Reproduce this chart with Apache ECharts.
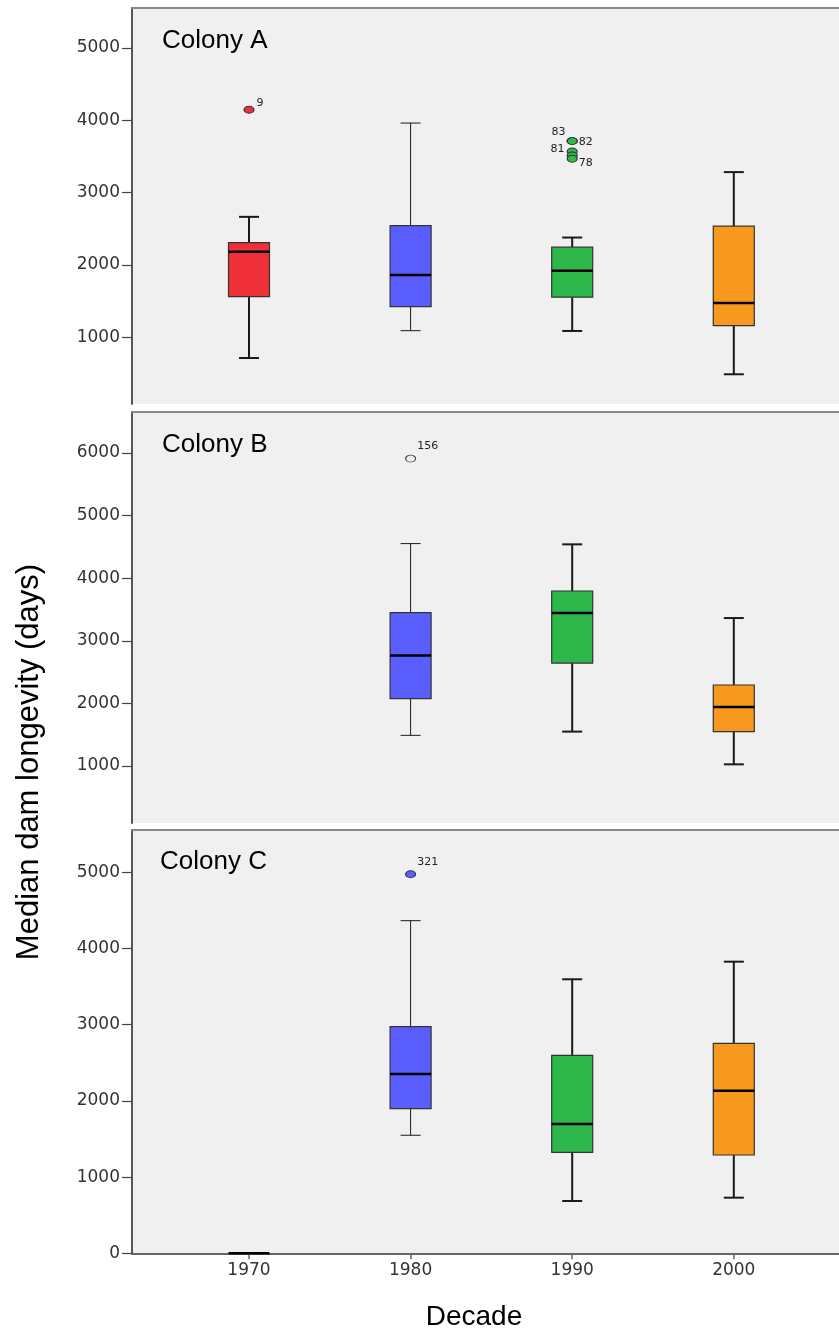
<!DOCTYPE html>
<html>
<head>
<meta charset="utf-8">
<script src="https://cdn.jsdelivr.net/npm/echarts@6/dist/echarts.min.js"></script>
<style>
html,body{margin:0;padding:0;background:#fff;}
#chart{width:839px;height:1333px;}
</style>
</head>
<body>
<div id="chart"></div>
<script>
// ---------- DATA ----------
const decades = [1970, 1980, 1990, 2000];
const yTicksA = [1000, 2000, 3000, 4000, 5000];
const yTicksB = [1000, 2000, 3000, 4000, 5000, 6000];
const yTicksC = [0, 1000, 2000, 3000, 4000, 5000];

const colonyA_min    = [713, 1091, 1087, 488];
const colonyA_q1     = [1562, 1424, 1554, 1161];
const colonyA_median = [2181, 1862, 1918, 1475];
const colonyA_q3     = [2309, 2545, 2246, 2536];
const colonyA_max    = [2665, 3962, 2379, 3284];

const colonyB_min    = [null, 1490, 1550, 1027];
const colonyB_q1     = [null, 2077, 2645, 1550];
const colonyB_median = [null, 2764, 3444, 1942];
const colonyB_q3     = [null, 3450, 3796, 2294];
const colonyB_max    = [null, 4553, 4541, 3364];

const colonyC_min    = [0, 1549, 686, 730];
const colonyC_q1     = [0, 1898, 1325, 1290];
const colonyC_median = [0, 2353, 1697, 2134];
const colonyC_q3     = [0, 2974, 2598, 2756];
const colonyC_max    = [0, 4365, 3596, 3827];

const outlierA_decade = [1970, 1990, 1990, 1990, 1990, 1990];
const outlierA_value  = [4146, 3713, 3713, 3569, 3513, 3468];
const outlierA_id     = ['9', '83', '82', '81', '', '78'];

const outlierB_decade = [1980];
const outlierB_value  = [5911];
const outlierB_id     = ['156'];

const outlierC_decade = [1980];
const outlierC_value  = [4974];
const outlierC_id     = ['321'];

// ---------- STYLES ----------
const decadeColors = ['#ef3038', '#5a5eff', '#2eb84b', '#f8991f'];
const whiskerWidths = [2, 1, 2, 2];
const BOX_W = 41, CAP_W = 20;
const labelPlacement = {
  '9':   {position: 'right', distance: 2, offset: [0, -7]},
  '83':  {position: 'left',  distance: 1, offset: [0, -9]},
  '82':  {position: 'right', distance: 1, offset: [0, 1]},
  '81':  {position: 'left',  distance: 2, offset: [0, -2]},
  '78':  {position: 'right', distance: 1, offset: [0, 4]},
  '156': {position: 'right', distance: 1, offset: [0, -12]},
  '321': {position: 'right', distance: 1, offset: [0, -12]}
};
const hollowIds = ['156'];

function buildBoxData(mins, q1s, meds, q3s, maxs) {
  const out = [];
  decades.forEach((d, i) => {
    if (meds[i] === null) return;
    out.push([d, mins[i], q1s[i], meds[i], q3s[i], maxs[i]]);
  });
  return out;
}
function buildOutliers(ds, vs, ids) {
  return ds.map((d, i) => {
    const ci = decades.indexOf(d);
    const hollow = hollowIds.indexOf(ids[i]) >= 0;
    const lp = labelPlacement[ids[i]];
    const item = {
      value: [d, vs[i]],
      itemStyle: {
        color: hollow ? '#f0f0f0' : decadeColors[ci],
        borderColor: hollow ? '#444' : '#333',
        borderWidth: 1,
        opacity: 1
      }
    };
    if (lp) {
      item.label = {show: true, formatter: ids[i], position: lp.position, distance: lp.distance, offset: lp.offset};
    } else {
      item.label = {show: false};
    }
    return item;
  });
}

function renderBox(params, api) {
  const x = api.value(0);
  const ci = decades.indexOf(x);
  const pMin = api.coord([x, api.value(1)]);
  const pQ1 = api.coord([x, api.value(2)]);
  const pMed = api.coord([x, api.value(3)]);
  const pQ3 = api.coord([x, api.value(4)]);
  const pMax = api.coord([x, api.value(5)]);
  const cx = pMed[0];
  const ww = whiskerWidths[ci];
  const wStyle = {stroke: '#1a1a1a', lineWidth: ww};
  const children = [];
  if (pMax[1] < pQ3[1]) {
    children.push({type: 'line', shape: {x1: cx, y1: pMax[1], x2: cx, y2: pQ3[1]}, style: wStyle});
    children.push({type: 'line', shape: {x1: cx - CAP_W / 2, y1: pMax[1], x2: cx + CAP_W / 2, y2: pMax[1]}, style: wStyle});
  }
  if (pMin[1] > pQ1[1]) {
    children.push({type: 'line', shape: {x1: cx, y1: pQ1[1], x2: cx, y2: pMin[1]}, style: wStyle});
    children.push({type: 'line', shape: {x1: cx - CAP_W / 2, y1: pMin[1], x2: cx + CAP_W / 2, y2: pMin[1]}, style: wStyle});
  }
  if (pQ1[1] > pQ3[1]) {
    children.push({type: 'rect', shape: {x: cx - BOX_W / 2, y: pQ3[1], width: BOX_W, height: pQ1[1] - pQ3[1]},
      style: {fill: decadeColors[ci], stroke: '#333', lineWidth: 1.2}});
  }
  children.push({type: 'line', shape: {x1: cx - BOX_W / 2, y1: pMed[1], x2: cx + BOX_W / 2, y2: pMed[1]},
    style: {stroke: '#000', lineWidth: 2.5}});
  return {type: 'group', children: children};
}

const XMIN = 1962.76, XMAX = 2006.51;
const labelFont = {fontFamily: 'DejaVu Sans', fontSize: 17, color: '#333'};

function yAxisDef(grid, min, max, ticks) {
  return {
    type: 'value', gridIndex: grid, min: min, max: max,
    splitLine: {show: false},
    axisLine: {show: true, lineStyle: {color: '#555', width: 2}},
    axisTick: {show: true, length: 10, lineStyle: {color: '#444', width: 1.2}, customValues: ticks},
    axisLabel: Object.assign({margin: 12, customValues: ticks, formatter: v => String(v)}, labelFont)
  };
}
function topBorderAxis(grid) {
  return {
    type: 'value', gridIndex: grid, position: 'top', min: XMIN, max: XMAX,
    splitLine: {show: false},
    axisLine: {show: true, onZero: false, lineStyle: {color: '#888', width: 2}},
    axisTick: {show: false}, axisLabel: {show: false}
  };
}

const chart = echarts.init(document.getElementById('chart'), null, {renderer: 'canvas'});
const gridCommon = {left: 132, right: 0, show: true, backgroundColor: '#f0f0f0', borderWidth: 0};

const outlierLabelStyle = {fontFamily: 'DejaVu Sans', fontSize: 11, color: '#222'};

chart.setOption({
  animation: false,
  backgroundColor: '#ffffff',
  grid: [
    Object.assign({top: 8, height: 396}, gridCommon),
    Object.assign({top: 412, height: 411}, gridCommon),
    Object.assign({top: 830, height: 423.3}, gridCommon)
  ],
  xAxis: [
    topBorderAxis(0),
    topBorderAxis(1),
    {
      type: 'value', gridIndex: 2, position: 'bottom', min: XMIN, max: XMAX,
      splitLine: {show: false},
      axisLine: {show: true, onZero: false, lineStyle: {color: '#666', width: 2}},
      axisTick: {show: true, length: 6, lineStyle: {color: '#666', width: 1.5}, customValues: decades},
      axisLabel: Object.assign({margin: 9, customValues: decades, formatter: v => String(v)}, labelFont)
    },
    topBorderAxis(2)
  ],
  yAxis: [
    yAxisDef(0, 77, 5553, yTicksA),
    yAxisDef(1, 90, 6655, yTicksB),
    yAxisDef(2, 0, 5555, yTicksC)
  ],
  series: [
    {type: 'custom', xAxisIndex: 0, yAxisIndex: 0, renderItem: renderBox, encode: {x: 0, y: [1, 2, 3, 4, 5]},
     data: buildBoxData(colonyA_min, colonyA_q1, colonyA_median, colonyA_q3, colonyA_max), z: 2},
    {type: 'custom', xAxisIndex: 1, yAxisIndex: 1, renderItem: renderBox, encode: {x: 0, y: [1, 2, 3, 4, 5]},
     data: buildBoxData(colonyB_min, colonyB_q1, colonyB_median, colonyB_q3, colonyB_max), z: 2},
    {type: 'custom', xAxisIndex: 2, yAxisIndex: 2, renderItem: renderBox, encode: {x: 0, y: [1, 2, 3, 4, 5]},
     data: buildBoxData(colonyC_min, colonyC_q1, colonyC_median, colonyC_q3, colonyC_max), z: 2},
    {type: 'scatter', xAxisIndex: 0, yAxisIndex: 0, symbol: 'circle', symbolSize: [10, 7], z: 3,
     itemStyle: {opacity: 1}, label: outlierLabelStyle, data: buildOutliers(outlierA_decade, outlierA_value, outlierA_id)},
    {type: 'scatter', xAxisIndex: 1, yAxisIndex: 1, symbol: 'circle', symbolSize: [10, 7], z: 3,
     itemStyle: {opacity: 1}, label: outlierLabelStyle, data: buildOutliers(outlierB_decade, outlierB_value, outlierB_id)},
    {type: 'scatter', xAxisIndex: 2, yAxisIndex: 2, symbol: 'circle', symbolSize: [10, 7], z: 3,
     itemStyle: {opacity: 1}, label: outlierLabelStyle, data: buildOutliers(outlierC_decade, outlierC_value, outlierC_id)}
  ],
  graphic: [
    {type: 'text', x: 162, y: 41, z: 10, style: {text: 'Colony A', font: '26px "Liberation Sans", Arial, sans-serif', fill: '#000', align: 'left', verticalAlign: 'middle'}},
    {type: 'text', x: 162, y: 445, z: 10, style: {text: 'Colony B', font: '26px "Liberation Sans", Arial, sans-serif', fill: '#000', align: 'left', verticalAlign: 'middle'}},
    {type: 'text', x: 160, y: 862, z: 10, style: {text: 'Colony C', font: '26px "Liberation Sans", Arial, sans-serif', fill: '#000', align: 'left', verticalAlign: 'middle'}},
    {type: 'text', x: 29, y: 762, rotation: Math.PI / 2, z: 10, style: {text: 'Median dam longevity (days)', font: '31px "Liberation Sans", Arial, sans-serif', fill: '#000', align: 'center', verticalAlign: 'middle'}},
    {type: 'text', x: 474, y: 1317, z: 10, style: {text: 'Decade', font: '28px "Liberation Sans", Arial, sans-serif', fill: '#000', align: 'center', verticalAlign: 'middle'}}
  ]
});
</script>
</body>
</html>
